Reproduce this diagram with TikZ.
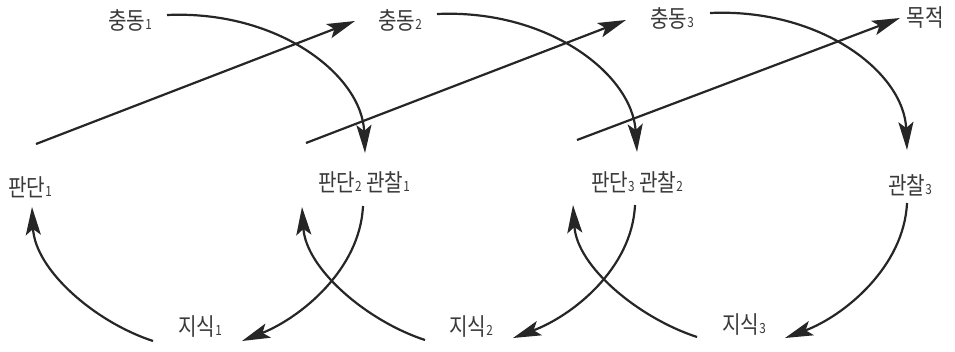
\documentclass[tikz,border=0pt]{standalone}
\usepackage{fontspec}
\setmainfont{Noto Sans CJK KR}[FakeStretch=0.84]
\usetikzlibrary{arrows.meta}
\newcommand{\idx}[1]{{\fontsize{14}{14}\selectfont #1}}
\definecolor{ink}{HTML}{262626}
\definecolor{txt}{HTML}{3A3A3A}
\tikzset{
  lbl/.style={inner sep=0pt, text=txt, font=\fontsize{24}{26}\selectfont},
  conn/.style={draw=ink, line width=2.2pt, -{Stealth[length=28pt,width=15pt,inset=6pt]}}
}
\begin{document}
\begin{tikzpicture}[x=1pt,y=-1pt]
\useasboundingbox (0,0) rectangle (955,351);
% labels
\node[lbl] (c1) at (130,20) {충동\idx{1}};
\node[lbl] (c2) at (400,20) {충동\idx{2}};
\node[lbl] (c3) at (672,18) {충동\idx{3}};
\node[lbl] (goal) at (925,18) {목적};
\node[lbl] (p1) at (30,187) {판단\idx{1}};
\node[lbl] (p2o1) at (364,182) {판단\idx{2} 관찰\idx{1}};
\node[lbl] (p3o2) at (637,182) {판단\idx{3} 관찰\idx{2}};
\node[lbl] (o3) at (910,185) {관찰\idx{3}};
\node[lbl] (k1) at (200,327) {지식\idx{1}};
\node[lbl] (k2) at (471,327) {지식\idx{2}};
\node[lbl] (k3) at (744,325) {지식\idx{3}};
% connector end points
\coordinate (s1a) at (36,144);  \coordinate (s1b) at (355,21);
\coordinate (s2a) at (306,143); \coordinate (s2b) at (626,20);
\coordinate (s3a) at (577,140); \coordinate (s3b) at (900,18);
\coordinate (t1a) at (167,15);  \coordinate (t1b) at (365,153);
\coordinate (t2a) at (437,14);  \coordinate (t2b) at (637,152);
\coordinate (t3a) at (710,13);  \coordinate (t3b) at (907,150);
\coordinate (l1a) at (153,341); \coordinate (l1b) at (32,207);
\coordinate (r1a) at (363,206); \coordinate (r1b) at (242,341);
\coordinate (l2a) at (425,340); \coordinate (l2b) at (302,207);
\coordinate (r2a) at (635,205); \coordinate (r2b) at (513,338);
\coordinate (l3a) at (697,337); \coordinate (l3b) at (573,205);
\coordinate (r3a) at (907,203); \coordinate (r3b) at (785,338);
% straight arrows (judgement -> next impulse)
\draw[conn] (s1a) -- (s1b);
\draw[conn] (s2a) -- (s2b);
\draw[conn] (s3a) -- (s3b);
% top arcs (impulse -> observation)
\draw[conn] (t1a) .. controls (278,10) and (362,75) .. (t1b);
\draw[conn] (t2a) .. controls (548,9) and (632,74) .. (t2b);
\draw[conn] (t3a) .. controls (820,8) and (904,72) .. (t3b);
% bottom arcs
\draw[conn] (l1a) .. controls (95,322) and (35,270) .. (l1b);
\draw[conn] (r1a) .. controls (360,270) and (300,318) .. (r1b);
\draw[conn] (l2a) .. controls (367,321) and (306,269) .. (l2b);
\draw[conn] (r2a) .. controls (632,269) and (572,316) .. (r2b);
\draw[conn] (l3a) .. controls (639,318) and (577,267) .. (l3b);
\draw[conn] (r3a) .. controls (904,267) and (844,316) .. (r3b);
\end{tikzpicture}
\end{document}
